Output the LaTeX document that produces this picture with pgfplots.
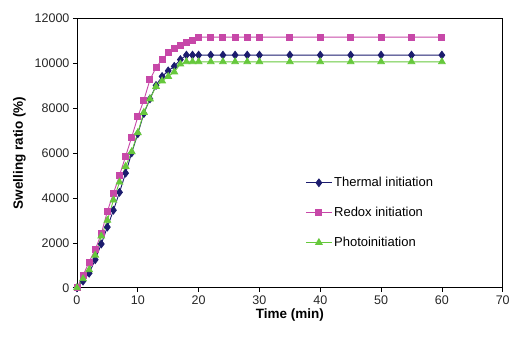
\documentclass[border=0pt]{standalone}
\usepackage{fontspec}
\setmainfont{Liberation Sans}
\usepackage{pgfplots}
\pgfplotsset{compat=1.18}
\definecolor{cthermal}{HTML}{1C1C6E}
\definecolor{credox}{HTML}{C748A8}
\definecolor{cphoto}{HTML}{66C83C}
\begin{document}
\begin{tikzpicture}
\begin{axis}[
  scale only axis,
  width=426pt, height=270pt,
  xmin=0, xmax=70, ymin=0, ymax=12000,
  xtick={0,10,...,70},
  ytick={0,2000,...,12000},
  tick pos=left, tick align=outside,
  major tick length=4pt,
  /pgf/number format/assume math mode=true,
  scaled y ticks=false,
  yticklabel style={/pgf/number format/1000 sep={}, font=\fontsize{12.5}{14}\selectfont, color=black!85},
  xticklabel style={font=\fontsize{12.5}{14}\selectfont, color=black!85},
  xlabel={\bfseries Time (min)},
  ylabel={\bfseries Swelling ratio (\%)},
  label style={font=\fontsize{13.5}{15}\selectfont},
  xlabel style={yshift=2pt},
  ylabel style={yshift=2pt},
  axis line style={line width=0.7pt},
  every tick/.style={line width=0.7pt, black},
  legend style={at={(0.532,0.425)}, anchor=north west, draw=none, fill=none,
    font=\fontsize{13}{15}\selectfont, row sep=15pt, inner sep=2pt},
  legend cell align=left,
  legend image code/.code={
    \draw[mark repeat=2,mark phase=2] plot coordinates {(0cm,0cm) (0.45cm,0cm) (0.9cm,0cm)};},
]
\addplot[color=cthermal, line width=0.9pt, mark=diamond*, mark size=3.8pt, mark options={fill=cthermal}] coordinates {
(0,0) (1,300) (2,650) (3,1250) (4,1950) (5,2700) (6,3450) (7,4250) (8,5100) (9,6000) (10,6850)
(11,7750) (12,8400) (13,9000) (14,9400) (15,9650) (16,9850) (17,10150) (18,10350) (19,10350) (20,10350)
(22,10350) (24,10350) (26,10350) (28,10350) (30,10350) (35,10350) (40,10350) (45,10350) (50,10350) (55,10350) (60,10350)};
\addlegendentry{Thermal initiation}
\addplot[color=credox, line width=0.9pt, mark=square*, mark size=3.0pt, mark options={fill=credox}] coordinates {
(0,0) (1,550) (2,1150) (3,1700) (4,2400) (5,3400) (6,4200) (7,5000) (8,5850) (9,6700) (10,7600)
(11,8350) (12,9250) (13,9800) (14,10150) (15,10450) (16,10650) (17,10800) (18,10920) (19,11020) (20,11150)
(22,11150) (24,11150) (26,11150) (28,11150) (30,11150) (35,11150) (40,11150) (45,11150) (50,11150) (55,11150) (60,11150)};
\addlegendentry{Redox initiation}
\addplot[color=cphoto, line width=0.9pt, mark=triangle*, mark size=3.8pt, mark options={fill=cphoto}] coordinates {
(0,0) (1,400) (2,800) (3,1450) (4,2300) (5,3000) (6,3900) (7,4700) (8,5400) (9,6050) (10,6900)
(11,7800) (12,8400) (13,8950) (14,9200) (15,9400) (16,9600) (17,9950) (18,10050) (19,10050) (20,10050)
(22,10050) (24,10050) (26,10050) (28,10050) (30,10050) (35,10050) (40,10050) (45,10050) (50,10050) (55,10050) (60,10050)};
\addlegendentry{Photoinitiation}
\end{axis}
\path ([shift={(-77pt,-56pt)}]current axis.south west) rectangle ([shift={(10pt,18pt)}]current axis.north east);
\end{tikzpicture}
\end{document}
